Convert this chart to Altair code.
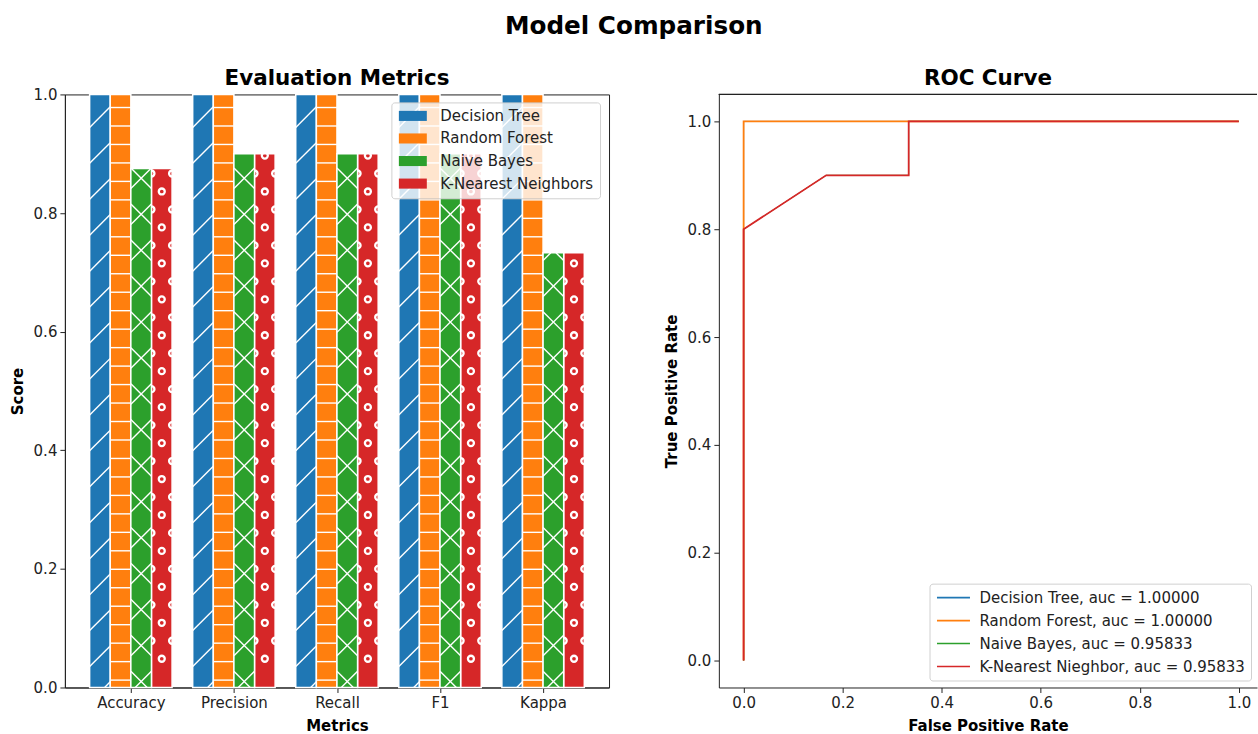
import json
import math

import altair as alt
import pandas as pd

# ---------------- evaluation metrics ----------------
metrics = ["Accuracy", "Precision", "Recall", "F1", "Kappa"]
models = ["Decision Tree", "Random Forest", "Naive Bayes", "K-Nearest Neighbors"]
model_colors = ["#1f77b4", "#ff7f0e", "#2ca02c", "#d62728"]

dt_scores = [1.0, 1.0, 1.0, 1.0, 1.0]
rf_scores = [1.0, 1.0, 1.0, 1.0, 1.0]
nb_scores = [0.875, 0.9, 0.9, 0.9, 0.733]
knn_scores = [0.875, 0.9, 0.9, 0.9, 0.733]

score_ticks = [0.0, 0.2, 0.4, 0.6, 0.8, 1.0]

# ---------------- ROC curves ----------------
roc_labels = [
    "Decision Tree, auc = 1.00000",
    "Random Forest, auc = 1.00000",
    "Naive Bayes, auc = 0.95833",
    "K-Nearest Nieghbor, auc = 0.95833",
]
dt_fpr = [0.0, 0.0, 1.0]
dt_tpr = [0.0, 1.0, 1.0]
rf_fpr = [0.0, 0.0, 1.0]
rf_tpr = [0.0, 1.0, 1.0]
nb_fpr = [0.0, 0.0, 0.16667, 0.33333, 0.33333, 1.0]
nb_tpr = [0.0, 0.8, 0.9, 0.9, 1.0, 1.0]
knn_fpr = [0.0, 0.0, 0.16667, 0.33333, 0.33333, 1.0]
knn_tpr = [0.0, 0.8, 0.9, 0.9, 1.0, 1.0]

rate_ticks = [0.0, 0.2, 0.4, 0.6, 0.8, 1.0]

# ---------------- layout ----------------
BAR_PLOT_W = 545
ROC_PLOT_W = 539
PLOT_H = 594
BAR_W = 0.2
BAR_X_DOMAIN = [-0.64, 4.64]
ROC_X_DOMAIN = [-0.05, 1.0367]
ROC_Y_DOMAIN = [-0.05, 1.05]
FONT = "DejaVu Sans"
TEXT_SIZE = 15
FRAME = "#222"

# hatch spacing in pixels
DIAG_STEP = 36.0
LINE_STEP = 18.5
DOT_STEP = 36.0

# pixels per data unit in the bar panel
PX_X = BAR_PLOT_W / (BAR_X_DOMAIN[1] - BAR_X_DOMAIN[0])
PX_Y = PLOT_H / 1.0

# ---------------- bar table ----------------
bar_rows = []
for k, (model, scores) in enumerate(zip(models, [dt_scores, rf_scores, nb_scores, knn_scores])):
    for i, (metric, value) in enumerate(zip(metrics, scores)):
        x0 = i + (k - 2) * BAR_W
        bar_rows.append(dict(model=model, metric=metric, score=value, x0=x0, x1=x0 + BAR_W))
bars = pd.DataFrame(bar_rows)


# ---------------- hatch geometry ----------------
def diagonal_hatch(ua, ub, wv, anchor, phase, step, sign):
    """45-degree lines w = sign*(u - anchor) + b, clipped to the bar rectangle."""
    corners = [w - sign * (u - anchor) for u in (ua, ub) for w in (0.0, wv)]
    n0 = math.floor((min(corners) - phase) / step) - 1
    n1 = math.ceil((max(corners) - phase) / step) + 1
    segs = []
    for n in range(n0, n1 + 1):
        b = phase + n * step
        if sign > 0:
            lo, hi = anchor - b, anchor + wv - b
        else:
            lo, hi = anchor + b - wv, anchor + b
        lo, hi = max(lo, ua), min(hi, ub)
        if hi - lo > 0.3:
            segs.append((lo, sign * (lo - anchor) + b, hi, sign * (hi - anchor) + b))
    return segs


def hatch_table(model, style):
    rows = []
    for _, r in bars[bars.model == model].iterrows():
        ua, ub, wv = r.x0 * PX_X, r.x1 * PX_X, r.score * PX_Y
        uc = (ua + ub) / 2
        segs, dots = [], []
        if style == "/":
            segs = diagonal_hatch(ua, ub, wv, ua, 21.0, DIAG_STEP, +1)
        elif style == "x":
            segs = diagonal_hatch(ua, ub, wv, uc, 6.0, DIAG_STEP, +1)
            segs += diagonal_hatch(ua, ub, wv, uc, 6.0, DIAG_STEP, -1)
        elif style == "+":
            w = 7.4
            while w < wv - 0.5:
                segs.append((ua, w, ub, w))
                w += LINE_STEP
        elif style == "o":
            w = 28.8
            while w < wv + 1:
                dots.append((uc, w))
                w += DOT_STEP
            w = 28.8 + DOT_STEP / 2
            while w < wv + 1:
                dots.append((ua, w))
                dots.append((ub, w))
                w += DOT_STEP
        for u1, w1, u2, w2 in segs:
            rows.append(dict(hx=u1 / PX_X, hy=w1 / PX_Y, hx2=u2 / PX_X, hy2=w2 / PX_Y))
        for u, w in dots:
            if w >= 4:
                rows.append(dict(hx=u / PX_X, hy=w / PX_Y, hx2=u / PX_X, hy2=w / PX_Y))
    return pd.DataFrame(rows)


# ---------------- bar panel ----------------
bar_x_scale = alt.Scale(domain=BAR_X_DOMAIN, nice=False, zero=False)
score_scale = alt.Scale(domain=[0, 1], nice=False)
model_color = alt.Scale(domain=models, range=model_colors)

metric_label_expr = json.dumps(metrics) + "[datum.value]"
bar_x_axis = alt.Axis(values=list(range(len(metrics))), labelExpr=metric_label_expr)
score_axis = alt.Axis(values=score_ticks, format=".1f")

legend_box = dict(
    title=None,
    orient="none",
    labelFontSize=TEXT_SIZE,
    labelFont=FONT,
    labelColor="#222",
    labelLimit=400,
    padding=6,
    fillColor="rgba(255,255,255,0.8)",
    strokeColor="#d0d0d0",
    cornerRadius=3,
)

# wide swatch: the path spans twice the nominal symbol size horizontally
bar_legend = alt.Legend(
    legendX=327,
    legendY=8,
    symbolType="M-2,-0.72H2V0.72H-2Z",
    symbolSize=196,
    symbolOffset=8,
    symbolStrokeWidth=0,
    symbolOpacity=1,
    labelOffset=20,
    rowPadding=6.6,
    **legend_box,
)


def bar_layer(model, with_legend):
    return (
        alt.Chart(bars)
        .transform_filter(alt.datum.model == model)
        .mark_bar(stroke="white", strokeWidth=1.5)
        .encode(
            x=alt.X("x0:Q", scale=bar_x_scale, axis=bar_x_axis, title="Metrics"),
            x2="x1:Q",
            y=alt.Y("score:Q", scale=score_scale, axis=score_axis, title="Score"),
            y2=alt.datum(0),
            color=alt.Color("model:N", scale=model_color, legend=bar_legend if with_legend else None),
        )
    )


def hatch_layer(model, style):
    data = hatch_table(model, style)
    enc = dict(
        x=alt.X("hx:Q", scale=bar_x_scale, axis=bar_x_axis, title="Metrics"),
        y=alt.Y("hy:Q", scale=score_scale, axis=score_axis, title="Score"),
    )
    if style == "o":
        mark = alt.Chart(data).mark_point(shape="circle", filled=False, color="white", strokeWidth=2.3, size=36, opacity=1)
    else:
        mark = alt.Chart(data).mark_rule(color="white", strokeWidth=1.4)
        enc["x2"] = "hx2:Q"
        enc["y2"] = "hy2:Q"
    return mark.encode(**enc)


hatch_styles = dict(zip(models, ["/", "+", "x", "o"]))
draw_order = [models[0], models[1], models[3], models[2]]
bar_layers = []
for m in draw_order:
    bar_layers.append(bar_layer(m, m == models[0]))
    bar_layers.append(hatch_layer(m, hatch_styles[m]))

panel_title = dict(fontSize=21.5, fontWeight="bold", font=FONT, color="#000", anchor="middle", frame="group")

metrics_chart = alt.layer(*bar_layers).properties(
    width=BAR_PLOT_W,
    height=PLOT_H,
    title=alt.TitleParams("Evaluation Metrics", offset=-2, **panel_title),
    view=alt.ViewBackground(stroke=FRAME),
)

# ---------------- ROC panel ----------------
roc_rows = []
for label, fpr, tpr in zip(
    roc_labels,
    [dt_fpr, rf_fpr, nb_fpr, knn_fpr],
    [dt_tpr, rf_tpr, nb_tpr, knn_tpr],
):
    for j, (a, b) in enumerate(zip(fpr, tpr)):
        roc_rows.append(dict(label=label, fpr=a, tpr=b, step=j))
roc = pd.DataFrame(roc_rows)

roc_x_scale = alt.Scale(domain=ROC_X_DOMAIN, nice=False, zero=False)
roc_y_scale = alt.Scale(domain=ROC_Y_DOMAIN, nice=False, zero=False)
roc_color = alt.Scale(domain=roc_labels, range=model_colors)

roc_legend = alt.Legend(
    legendX=211,
    legendY=490,
    symbolType="M-2.36,0H2.36",
    symbolSize=196,
    symbolOffset=10,
    symbolStrokeWidth=1.6,
    labelOffset=18,
    rowPadding=7,
    **legend_box,
)

fpr_axis = alt.Axis(values=rate_ticks, format=".1f")
tpr_axis = alt.Axis(values=rate_ticks, format=".1f")

# curves drawn later sit on top; the covered ones are kept thinner
line_widths = [1.0, 1.8, 1.0, 1.8]

roc_layers = []
for idx, label in enumerate(roc_labels):
    roc_layers.append(
        alt.Chart(roc)
        .transform_filter(alt.datum.label == label)
        .mark_line(strokeWidth=line_widths[idx], clip=True)
        .encode(
            x=alt.X("fpr:Q", scale=roc_x_scale, axis=fpr_axis, title="False Positive Rate"),
            y=alt.Y("tpr:Q", scale=roc_y_scale, axis=tpr_axis, title="True Positive Rate"),
            color=alt.Color("label:N", scale=roc_color, legend=roc_legend if idx == 0 else None),
            order="step:Q",
        )
    )

# top edge of the ROC frame, drawn along the upper end of the y domain
roc_top_edge = (
    alt.Chart(roc)
    .transform_filter(alt.datum.step == 0)
    .mark_rule(color=FRAME, strokeWidth=1)
    .encode(
        x=alt.datum(ROC_X_DOMAIN[0]),
        x2=alt.datum(ROC_X_DOMAIN[1]),
        y=alt.datum(ROC_Y_DOMAIN[1]),
    )
)

roc_chart = alt.layer(*roc_layers, roc_top_edge).properties(
    width=ROC_PLOT_W,
    height=PLOT_H,
    title=alt.TitleParams("ROC Curve", offset=4, **panel_title),
    view=alt.ViewBackground(stroke="transparent"),
)

chart = (
    alt.hconcat(metrics_chart, roc_chart, spacing=53)
    .resolve_scale(x="independent", y="independent", color="independent")
    .resolve_legend(color="independent")
    .properties(
        title=alt.TitleParams(
            "Model Comparison", fontSize=24.7, fontWeight="bold", font=FONT, color="#000", anchor="middle", offset=29
        ),
        padding={"left": 9, "top": 13, "right": 0, "bottom": 0},
    )
    .configure(font=FONT)
    .configure_axis(
        domainColor=FRAME,
        tickColor=FRAME,
        labelColor="#222",
        titleColor="#000",
        labelFont=FONT,
        titleFont=FONT,
        labelFontSize=TEXT_SIZE,
        titleFontSize=TEXT_SIZE,
        titleFontWeight="bold",
        tickSize=5,
        labelPadding=3,
        titlePadding=8,
        grid=False,
    )
)

chart.save("out.html", embed_options={"renderer": "svg", "actions": False})
